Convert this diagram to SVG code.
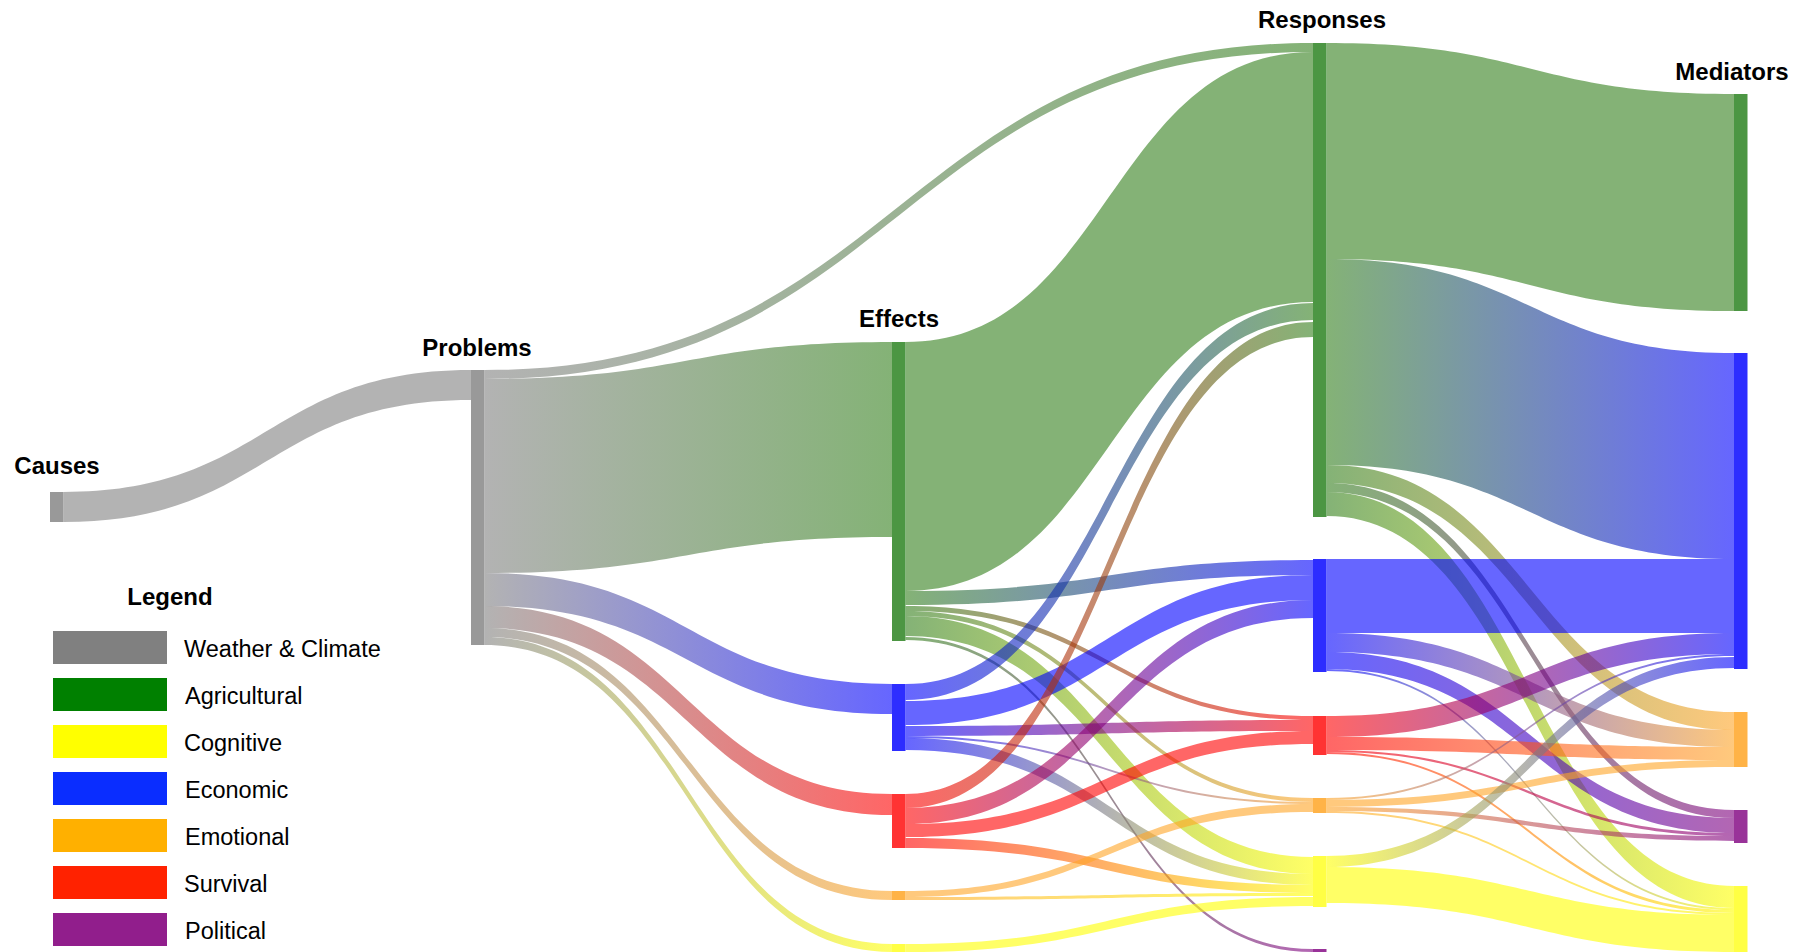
<svg xmlns="http://www.w3.org/2000/svg" width="1809" height="952" viewBox="0 0 1809 952">
<style>
.lk{fill-opacity:0.6}
.hd{font-family:"Liberation Sans",Arial,sans-serif;font-weight:bold;font-size:24px;fill:#000;text-anchor:middle}
.lg{font-family:"Liberation Sans",Arial,sans-serif;font-size:23.5px;fill:#000}
.gy{fill:#808080}.gn{fill:#327f1b}.bl{fill:#0000ff}.rd{fill:#ff0000}.or{fill:#ffa526}.ye{fill:#ffff00}.pu{fill:#800080}
.ngy{fill:#999999}.ngn{fill:#4c9643}.nbl{fill:#2d2dff}.nrd{fill:#ff3333}.nor{fill:#ffb347}.nye{fill:#ffff44}.npu{fill:#993399}
</style>
<defs>
<linearGradient id="gy-gn"><stop offset="0" stop-color="#808080"/><stop offset="1" stop-color="#327f1b"/></linearGradient>
<linearGradient id="gy-bl"><stop offset="0" stop-color="#808080"/><stop offset="1" stop-color="#0000ff"/></linearGradient>
<linearGradient id="gy-rd"><stop offset="0" stop-color="#808080"/><stop offset="1" stop-color="#ff0000"/></linearGradient>
<linearGradient id="gy-or"><stop offset="0" stop-color="#808080"/><stop offset="1" stop-color="#ffa526"/></linearGradient>
<linearGradient id="gy-ye"><stop offset="0" stop-color="#808080"/><stop offset="1" stop-color="#ffff00"/></linearGradient>
<linearGradient id="gn-bl"><stop offset="0" stop-color="#327f1b"/><stop offset="1" stop-color="#0000ff"/></linearGradient>
<linearGradient id="gn-rd"><stop offset="0" stop-color="#327f1b"/><stop offset="1" stop-color="#ff0000"/></linearGradient>
<linearGradient id="gn-or"><stop offset="0" stop-color="#327f1b"/><stop offset="1" stop-color="#ffa526"/></linearGradient>
<linearGradient id="gn-ye"><stop offset="0" stop-color="#327f1b"/><stop offset="1" stop-color="#ffff00"/></linearGradient>
<linearGradient id="gn-pu"><stop offset="0" stop-color="#327f1b"/><stop offset="1" stop-color="#800080"/></linearGradient>
<linearGradient id="bl-gn"><stop offset="0" stop-color="#0000ff"/><stop offset="1" stop-color="#327f1b"/></linearGradient>
<linearGradient id="bl-rd"><stop offset="0" stop-color="#0000ff"/><stop offset="1" stop-color="#ff0000"/></linearGradient>
<linearGradient id="bl-or"><stop offset="0" stop-color="#0000ff"/><stop offset="1" stop-color="#ffa526"/></linearGradient>
<linearGradient id="bl-ye"><stop offset="0" stop-color="#0000ff"/><stop offset="1" stop-color="#ffff00"/></linearGradient>
<linearGradient id="bl-pu"><stop offset="0" stop-color="#0000ff"/><stop offset="1" stop-color="#800080"/></linearGradient>
<linearGradient id="rd-gn"><stop offset="0" stop-color="#ff0000"/><stop offset="1" stop-color="#327f1b"/></linearGradient>
<linearGradient id="rd-bl"><stop offset="0" stop-color="#ff0000"/><stop offset="1" stop-color="#0000ff"/></linearGradient>
<linearGradient id="rd-ye"><stop offset="0" stop-color="#ff0000"/><stop offset="1" stop-color="#ffff00"/></linearGradient>
<linearGradient id="rd-or"><stop offset="0" stop-color="#ff0000"/><stop offset="1" stop-color="#ffa526"/></linearGradient>
<linearGradient id="rd-pu"><stop offset="0" stop-color="#ff0000"/><stop offset="1" stop-color="#800080"/></linearGradient>
<linearGradient id="or-ye"><stop offset="0" stop-color="#ffa526"/><stop offset="1" stop-color="#ffff00"/></linearGradient>
<linearGradient id="or-bl"><stop offset="0" stop-color="#ffa526"/><stop offset="1" stop-color="#0000ff"/></linearGradient>
<linearGradient id="or-pu"><stop offset="0" stop-color="#ffa526"/><stop offset="1" stop-color="#800080"/></linearGradient>
<linearGradient id="ye-bl"><stop offset="0" stop-color="#ffff00"/><stop offset="1" stop-color="#0000ff"/></linearGradient>
</defs>
<rect width="1809" height="952" fill="#fff"/>
<g id="connectors">
<path class="lk gy" d="M63.5,492 C267,492 267,370 471,370 L471,400 C267,400 267,522 63.5,522 Z"/>
<path class="lk" fill="url(#gy-gn)" d="M484.5,370 C899,370 899,43 1313,43 L1313,52 C899,52 899,379 484.5,379 Z"/>
<path class="lk" fill="url(#gy-gn)" d="M484.5,379 C688,379 688,342 892,342 L892,537 C688,537 688,573 484.5,573 Z"/>
<path class="lk" fill="url(#gy-bl)" d="M484.5,573 C688,573 688,684 892,684 L892,714 C688,714 688,606 484.5,606 Z"/>
<path class="lk" fill="url(#gy-rd)" d="M484.5,606 C688,606 688,794 892,794 L892,815 C688,815 688,628 484.5,628 Z"/>
<path class="lk" fill="url(#gy-or)" d="M484.5,628 C688,628 688,891 892,891 L892,900 C688,900 688,637 484.5,637 Z"/>
<path class="lk" fill="url(#gy-ye)" d="M484.5,637 C688,637 688,944 892,944 L892,952 C688,952 688,645 484.5,645 Z"/>
<path class="lk gn" d="M905.5,342 C1109,342 1109,52 1313,52 L1313,302 C1109,302 1109,591 905.5,591 Z"/>
<path class="lk" fill="url(#gn-bl)" d="M905.5,591 C1109,591 1109,560 1313,560 L1313,575 C1109,575 1109,605 905.5,605 Z"/>
<path class="lk" fill="url(#gn-rd)" d="M905.5,606 C1109,606 1109,716 1313,716 L1313,720 C1109,720 1109,611 905.5,611 Z"/>
<path class="lk" fill="url(#gn-or)" d="M905.5,611 C1109,611 1109,798 1313,798 L1313,802 C1109,802 1109,616 905.5,616 Z"/>
<path class="lk" fill="url(#gn-ye)" d="M905.5,616 C1109,616 1109,857 1313,857 L1313,874 C1109,874 1109,636 905.5,636 Z"/>
<path class="lk" fill="url(#gn-pu)" d="M905.5,637 C1109,637 1109,949 1313,949 L1313,952 C1109,952 1109,640 905.5,640 Z"/>
<path class="lk" fill="url(#bl-gn)" d="M905.5,684 C1109,684 1109,303 1313,303 L1313,320 C1109,320 1109,700 905.5,700 Z"/>
<path class="lk bl" d="M905.5,701 C1109,701 1109,575 1313,575 L1313,600 C1109,600 1109,725 905.5,725 Z"/>
<path class="lk" fill="url(#bl-rd)" d="M905.5,726 C1109,726 1109,720 1313,720 L1313,731 C1109,731 1109,736 905.5,736 Z"/>
<path class="lk" fill="url(#bl-or)" d="M905.5,736 C1109,736 1109,802 1313,802 L1313,804 C1109,804 1109,738 905.5,738 Z"/>
<path class="lk" fill="url(#bl-ye)" d="M905.5,738 C1109,738 1109,874 1313,874 L1313,885 C1109,885 1109,750 905.5,750 Z"/>
<path class="lk" fill="url(#rd-gn)" d="M905.5,794 C1109,794 1109,322 1313,322 L1313,337 C1109,337 1109,808 905.5,808 Z"/>
<path class="lk" fill="url(#rd-bl)" d="M905.5,808 C1109,808 1109,600 1313,600 L1313,618 C1109,618 1109,824 905.5,824 Z"/>
<path class="lk rd" d="M905.5,824 C1109,824 1109,731 1313,731 L1313,744 C1109,744 1109,837 905.5,837 Z"/>
<path class="lk" fill="url(#rd-ye)" d="M905.5,838 C1109,838 1109,885 1313,885 L1313,893 C1109,893 1109,848 905.5,848 Z"/>
<path class="lk or" d="M905.5,891 C1109,891 1109,804 1313,804 L1313,812 C1109,812 1109,897 905.5,897 Z"/>
<path class="lk" fill="url(#or-ye)" d="M905.5,897 C1109,897 1109,893 1313,893 L1313,896 C1109,896 1109,900 905.5,900 Z"/>
<path class="lk ye" d="M905.5,944 C1109,944 1109,897 1313,897 L1313,906 C1109,906 1109,952 905.5,952 Z"/>
<path class="lk gn" d="M1326.5,43 C1530,43 1530,94 1734,94 L1734,311 C1530,311 1530,259 1326.5,259 Z"/>
<path class="lk" fill="url(#gn-bl)" d="M1326.5,259 C1530,259 1530,353 1734,353 L1734,559 C1530,559 1530,465 1326.5,465 Z"/>
<path class="lk" fill="url(#gn-or)" d="M1326.5,465 C1530,465 1530,712 1734,712 L1734,730 C1530,730 1530,483 1326.5,483 Z"/>
<path class="lk" fill="url(#gn-pu)" d="M1326.5,483 C1530,483 1530,810 1734,810 L1734,818 C1530,818 1530,492 1326.5,492 Z"/>
<path class="lk" fill="url(#gn-ye)" d="M1326.5,492 C1530,492 1530,886 1734,886 L1734,908 C1530,908 1530,516 1326.5,516 Z"/>
<path class="lk bl" d="M1326.5,559 L1734,559 L1734,633 L1326.5,633 Z"/>
<path class="lk" fill="url(#bl-or)" d="M1326.5,633 C1530,633 1530,730 1734,730 L1734,747 C1530,747 1530,652 1326.5,652 Z"/>
<path class="lk" fill="url(#bl-pu)" d="M1326.5,652 C1530,652 1530,818 1734,818 L1734,833 C1530,833 1530,669 1326.5,669 Z"/>
<path class="lk" fill="url(#bl-ye)" d="M1326.5,669 C1530,669 1530,908 1734,908 L1734,910 C1530,910 1530,671 1326.5,671 Z"/>
<path class="lk" fill="url(#rd-bl)" d="M1326.5,716 C1530,716 1530,633 1734,633 L1734,654 C1530,654 1530,737 1326.5,737 Z"/>
<path class="lk" fill="url(#rd-or)" d="M1326.5,737 C1530,737 1530,747 1734,747 L1734,760 C1530,760 1530,750 1326.5,750 Z"/>
<path class="lk" fill="url(#rd-pu)" d="M1326.5,750 C1530,750 1530,833 1734,833 L1734,836 C1530,836 1530,752 1326.5,752 Z"/>
<path class="lk" fill="url(#rd-ye)" d="M1326.5,752 C1530,752 1530,910 1734,910 L1734,913 C1530,913 1530,754 1326.5,754 Z"/>
<path class="lk" fill="url(#or-bl)" d="M1326.5,798 C1530,798 1530,654 1734,654 L1734,656 C1530,656 1530,800 1326.5,800 Z"/>
<path class="lk or" d="M1326.5,800 C1530,800 1530,760 1734,760 L1734,767 C1530,767 1530,807 1326.5,807 Z"/>
<path class="lk" fill="url(#or-pu)" d="M1326.5,807 C1530,807 1530,836 1734,836 L1734,841 C1530,841 1530,811 1326.5,811 Z"/>
<path class="lk" fill="url(#or-ye)" d="M1326.5,811 C1530,811 1530,913 1734,913 L1734,915 C1530,915 1530,813 1326.5,813 Z"/>
<path class="lk" fill="url(#ye-bl)" d="M1326.5,856 C1530,856 1530,657 1734,657 L1734,668 C1530,668 1530,867 1326.5,867 Z"/>
<path class="lk ye" d="M1326.5,867 C1530,867 1530,915 1734,915 L1734,952 C1530,952 1530,903 1326.5,903 Z"/>
</g>
<g id="node-causes"><rect class="ngy" x="50" y="492" width="13.5" height="30"/><text class="hd" x="57" y="474">Causes</text></g>
<g id="node-problems"><rect class="ngy" x="471" y="370" width="13.5" height="275"/><text class="hd" x="477" y="356">Problems</text></g>
<g id="node-effects-agricultural"><rect class="ngn" x="892" y="342" width="13.5" height="299"/><text class="hd" x="899" y="327">Effects</text></g>
<g id="node-effects-economic"><rect class="nbl" x="892" y="684" width="13.5" height="67"/></g>
<g id="node-effects-survival"><rect class="nrd" x="892" y="794" width="13.5" height="54"/></g>
<g id="node-effects-emotional"><rect class="nor" x="892" y="891" width="13.5" height="9"/></g>
<g id="node-effects-cognitive"><rect class="nye" x="892" y="944" width="13.5" height="8"/></g>
<g id="node-responses-agricultural"><rect class="ngn" x="1313" y="43" width="13.5" height="474"/><text class="hd" x="1322" y="28">Responses</text></g>
<g id="node-responses-economic"><rect class="nbl" x="1313" y="559" width="13.5" height="113"/></g>
<g id="node-responses-survival"><rect class="nrd" x="1313" y="716" width="13.5" height="39"/></g>
<g id="node-responses-emotional"><rect class="nor" x="1313" y="798" width="13.5" height="15"/></g>
<g id="node-responses-cognitive"><rect class="nye" x="1313" y="856" width="13.5" height="51"/></g>
<g id="node-responses-political"><rect class="npu" x="1313" y="949" width="13.5" height="3"/></g>
<g id="node-mediators-agricultural"><rect class="ngn" x="1734" y="94" width="13.5" height="217"/><text class="hd" x="1732" y="80">Mediators</text></g>
<g id="node-mediators-economic"><rect class="nbl" x="1734" y="353" width="13.5" height="316"/></g>
<g id="node-mediators-emotional"><rect class="nor" x="1734" y="712" width="13.5" height="55"/></g>
<g id="node-mediators-political"><rect class="npu" x="1734" y="810" width="13.5" height="33"/></g>
<g id="node-mediators-cognitive"><rect class="nye" x="1734" y="886" width="13.5" height="66"/></g>
<g id="legend">
<text class="hd" x="170" y="605">Legend</text>
<rect x="53" y="631" width="114" height="33" fill="#808080"/><text class="lg" x="184" y="657">Weather &amp; Climate</text>
<rect x="53" y="678" width="114" height="33" fill="#008000"/><text class="lg" x="185" y="704">Agricultural</text>
<rect x="53" y="725" width="114" height="33" fill="#ffff00"/><text class="lg" x="184" y="751">Cognitive</text>
<rect x="53" y="772" width="114" height="33" fill="#0a2dff"/><text class="lg" x="185" y="798">Economic</text>
<rect x="53" y="819" width="114" height="33" fill="#ffb000"/><text class="lg" x="185" y="845">Emotional</text>
<rect x="53" y="866" width="114" height="33" fill="#ff2200"/><text class="lg" x="184" y="892">Survival</text>
<rect x="53" y="913" width="114" height="33" fill="#911e8c"/><text class="lg" x="185" y="939">Political</text>
</g>
</svg>
